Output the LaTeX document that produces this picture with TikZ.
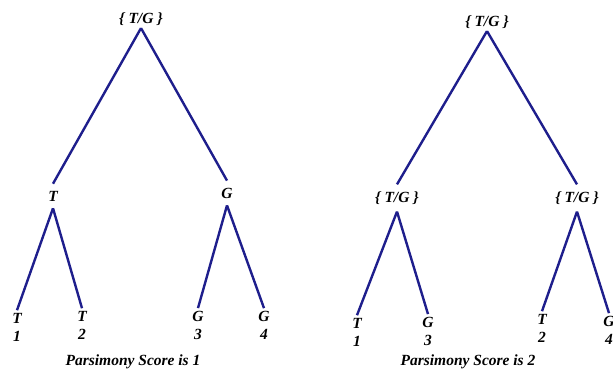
\documentclass[tikz,border=0pt]{standalone}
\usepackage{fontspec}
\setmainfont{Liberation Serif}
\usepackage{tikz}
\usetikzlibrary{positioning}
\definecolor{TreeBlue}{RGB}{30,30,140}

\begin{document}
\begin{tikzpicture}[x=1pt,y=-1pt,font=\fontsize{15.5}{18}\selectfont\bfseries\itshape,
  lbl/.style={inner sep=2.5pt,align=center},
  mid/.style={lbl,inner ysep=7pt},
  edge/.style={TreeBlue,line width=2.4pt}]
\useasboundingbox (0,0) rectangle (613,371);
% left tree
\node[lbl] (rootA) at (141,19) {\{ T/G \}};
\node[mid] (tA) at (53,196) {T};
\node[mid] (gA) at (227,193) {G};
\node[lbl] (l1A) at (17,327) {T\\1};
\node[lbl] (l2A) at (82,325) {T\\2};
\node[lbl] (l3A) at (198,325) {G\\3};
\node[lbl] (l4A) at (264,325) {G\\4};
\draw[edge] (rootA.south) -- (tA.north);
\draw[edge] (rootA.south) -- (gA.north);
\draw[edge] (tA.south) -- (l1A.north);
\draw[edge] (tA.south) -- (l2A.north);
\draw[edge] (gA.south) -- (l3A.north);
\draw[edge] (gA.south) -- (l4A.north);
\node (scoreA) at (133,362) {Parsimony Score is 1};
% right tree
\node[lbl] (rootB) at (487,22) {\{ T/G \}};
\node[mid] (lB) at (397,198) {\{ T/G \}};
\node[mid] (rB) at (577,198) {\{ T/G \}};
\node[lbl] (l1B) at (357,332) {T\\1};
\node[lbl] (l3B) at (428,331) {G\\3};
\node[lbl] (l2B) at (542,328) {T\\2};
\node[lbl] (l4B) at (609,330) {G\\4};
\draw[edge] (rootB.south) -- (lB.north);
\draw[edge] (rootB.south) -- (rB.north);
\draw[edge] (lB.south) -- (l1B.north);
\draw[edge] (lB.south) -- (l3B.north);
\draw[edge] (rB.south) -- (l2B.north);
\draw[edge] (rB.south) -- (l4B.north);
\node (scoreB) at (468,362) {Parsimony Score is 2};
\end{tikzpicture}
\end{document}
